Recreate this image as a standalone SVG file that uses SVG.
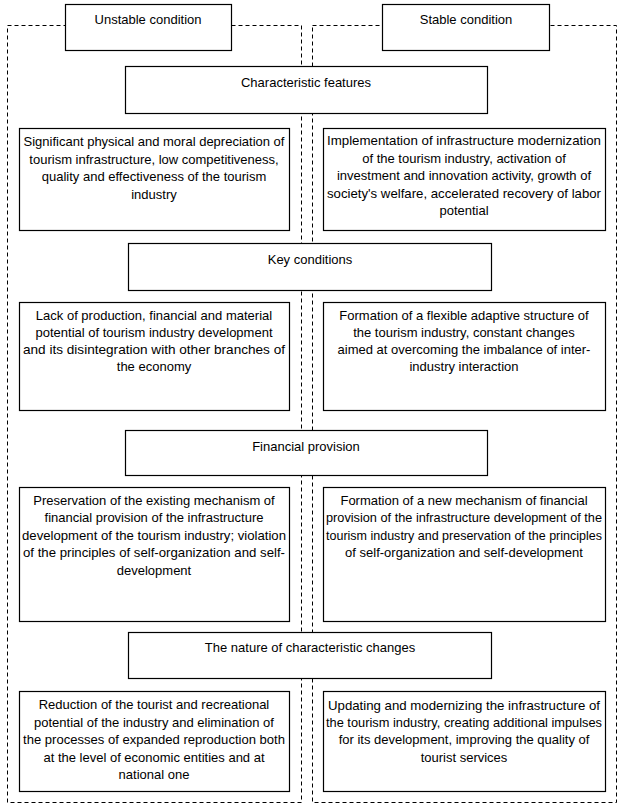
<svg xmlns="http://www.w3.org/2000/svg" width="621" height="809" viewBox="0 0 621 809">
<style>
.cont{fill:none;stroke:#000;stroke-width:1;stroke-dasharray:4 3}
.box{fill:#fff;stroke:#000;stroke-width:1.2}
text{font-family:"Liberation Sans",Arial,sans-serif;font-size:13px;fill:#000;text-anchor:middle}
</style>
<rect width="621" height="809" fill="#fff"/>
<g id="containers">
<rect class="cont" x="7.5" y="25.5" width="294" height="777"/>
<rect class="cont" x="312.5" y="25.5" width="304" height="777"/>
</g>
<g id="unstable"><rect class="box" x="65.5" y="4.5" width="166" height="46"/><text x="148" y="24">Unstable condition</text></g>
<g id="stable"><rect class="box" x="382.5" y="4.5" width="167" height="46"/><text x="466" y="24">Stable condition</text></g>
<g id="features"><rect class="box" x="125.5" y="66.5" width="362" height="47"/><text x="306" y="87">Characteristic  features</text></g>
<g id="l1"><rect class="box" x="19.5" y="128.5" width="270" height="102"/>
<text x="154" y="146">Significant physical and moral depreciation of</text>
<text x="154" y="164">tourism infrastructure, low competitiveness,</text>
<text x="154" y="181">quality and effectiveness of the tourism</text>
<text x="154" y="199">industry</text></g>
<g id="r1"><rect class="box" x="323.5" y="128.5" width="282" height="102"/>
<text x="464" y="145" textLength="274" lengthAdjust="spacingAndGlyphs">Implementation of infrastructure modernization</text>
<text x="464" y="163">of the tourism industry, activation of</text>
<text x="464" y="180">investment and innovation activity, growth of</text>
<text x="464" y="198" textLength="274" lengthAdjust="spacingAndGlyphs">society's welfare, accelerated recovery of labor</text>
<text x="464" y="215">potential</text></g>
<g id="key"><rect class="box" x="128.5" y="243.5" width="363" height="47"/><text x="310" y="264">Key conditions</text></g>
<g id="l2"><rect class="box" x="19.5" y="302.5" width="270" height="108"/>
<text x="154" y="320">Lack of production,  financial and material</text>
<text x="154" y="337">potential of tourism industry development</text>
<text x="154" y="354" textLength="262" lengthAdjust="spacingAndGlyphs">and its disintegration with other branches of</text>
<text x="154" y="371">the economy</text></g>
<g id="r2"><rect class="box" x="323.5" y="302.5" width="282" height="108"/>
<text x="464" y="320">Formation of a flexible adaptive structure of</text>
<text x="464" y="337">the tourism industry, constant changes</text>
<text x="464" y="354">aimed at overcoming  the imbalance of inter-</text>
<text x="464" y="371">industry interaction</text></g>
<g id="financial"><rect class="box" x="125.5" y="430.5" width="362" height="45"/><text x="306" y="451">Financial  provision</text></g>
<g id="l3"><rect class="box" x="19.5" y="487.5" width="270" height="134"/>
<text x="154" y="505">Preservation of the existing mechanism of</text>
<text x="154" y="522">financial provision  of the infrastructure</text>
<text x="154" y="540" textLength="264" lengthAdjust="spacingAndGlyphs">development  of the tourism industry; violation</text>
<text x="154" y="557" textLength="262" lengthAdjust="spacingAndGlyphs">of the principles of self-organization and self-</text>
<text x="154" y="575">development</text></g>
<g id="r3"><rect class="box" x="323.5" y="487.5" width="282" height="134"/>
<text x="464" y="505">Formation of a new mechanism of financial</text>
<text x="464" y="522" textLength="276" lengthAdjust="spacingAndGlyphs">provision of the infrastructure development of the</text>
<text x="464" y="540" textLength="276" lengthAdjust="spacingAndGlyphs">tourism industry and preservation of the principles</text>
<text x="464" y="557">of self-organization and self-development</text></g>
<g id="nature"><rect class="box" x="128.5" y="632.5" width="363" height="46"/><text x="310" y="652">The nature of characteristic  changes</text></g>
<g id="l4"><rect class="box" x="19.5" y="691.5" width="270" height="100"/>
<text x="154" y="709">Reduction of the tourist and recreational</text>
<text x="154" y="727">potential of the industry and elimination of</text>
<text x="154" y="744" textLength="262" lengthAdjust="spacingAndGlyphs">the processes of expanded reproduction both</text>
<text x="154" y="762">at the level of economic entities and at</text>
<text x="154" y="779">national one</text></g>
<g id="r4"><rect class="box" x="323.5" y="691.5" width="282" height="100"/>
<text x="464" y="710" textLength="272" lengthAdjust="spacingAndGlyphs">Updating and modernizing the infrastructure of</text>
<text x="464" y="727" textLength="276" lengthAdjust="spacingAndGlyphs">the tourism industry, creating additional impulses</text>
<text x="464" y="744">for its development,  improving  the quality of</text>
<text x="464" y="762">tourist services</text></g>
</svg>
